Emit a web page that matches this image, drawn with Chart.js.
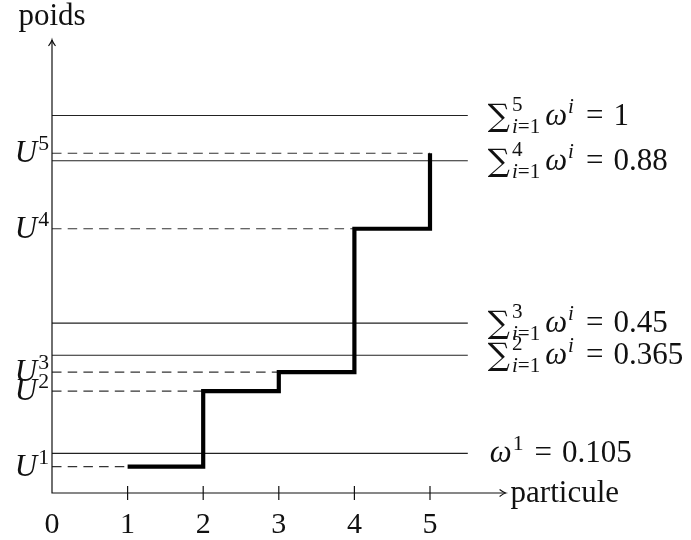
<!DOCTYPE html>
<html>
<head>
<meta charset="utf-8">
<script src="https://cdn.jsdelivr.net/npm/chart.js@4.4.1/dist/chart.umd.min.js"></script>
<style>
  html,body{margin:0;padding:0;background:#fff;}
  #wrap{width:691px;height:540px;}
</style>
</head>
<body>
<div id="wrap"><canvas id="c" width="691" height="540"></canvas></div>
<script>
// data
const particules = [1, 2, 3, 4, 5];
const U = [0.07, 0.27, 0.32, 0.70, 0.90];           // tirages U^k
const cumWeights = [0.105, 0.365, 0.45, 0.88, 1];    // sommes cumulées des poids
const cumText = ['0.105', '0.365', '0.45', '0.88', '1'];
const xTicks = [0, 1, 2, 3, 4, 5];
const xMax = 6, yMax = 1.2, lineEnd = 5.5;

const FONT = '"Liberation Serif", "DejaVu Serif", serif';
const INK = '#111';

// step line through the U values
const stepData = particules.map((p, i) => ({x: p, y: U[i]}));

const datasets = [{
  data: stepData, stepped: 'before', borderColor: '#000', borderWidth: 4.2,
  pointRadius: 0, fill: false, order: 0, borderCapStyle: 'butt', borderJoinStyle: 'miter'
}];
// horizontal lines of cumulative weights
cumWeights.forEach(w => datasets.push({
  data: [{x: 0, y: w}, {x: lineEnd, y: w}], borderColor: '#222', borderWidth: 1.1,
  pointRadius: 0, fill: false, order: 1
}));
// dashed lines from axis to each particle
U.forEach((u, i) => datasets.push({
  data: [{x: 0, y: u}, {x: particules[i], y: u}], borderColor: '#333', borderWidth: 1.2,
  borderDash: [9.5, 6.2], pointRadius: 0, fill: false, order: 2
}));

// draw a bit of math: parts = {t, it, s, dy, noAdv, gap}
function drawMath(ctx, x, y, parts, size) {
  let cx = x;
  parts.forEach(p => {
    const fs = size * (p.s || 1);
    ctx.font = (p.it ? 'italic ' : '') + fs + 'px ' + (p.f || FONT);
    ctx.fillText(p.t, cx, y + (p.dy || 0));
    if (!p.noAdv) cx += ctx.measureText(p.t).width + (p.gap || 0);
  });
  return cx - x;
}
function mathWidth(ctx, parts, size) {
  let w = 0;
  parts.forEach(p => {
    ctx.font = (p.it ? 'italic ' : '') + size * (p.s || 1) + 'px ' + (p.f || FONT);
    if (!p.noAdv) w += ctx.measureText(p.t).width + (p.gap || 0);
  });
  return w;
}

const decor = {
  id: 'decor',
  afterDraw(chart) {
    const ctx = chart.ctx, xs = chart.scales.x, ys = chart.scales.y;
    const x0 = xs.getPixelForValue(0), y0 = ys.getPixelForValue(0);
    const xe = xs.getPixelForValue(xMax), ye = ys.getPixelForValue(yMax);
    ctx.save();
    ctx.strokeStyle = INK; ctx.fillStyle = INK; ctx.lineWidth = 1.2;
    // axes
    ctx.beginPath();
    ctx.moveTo(x0, ye); ctx.lineTo(x0, y0); ctx.lineTo(xe, y0);
    ctx.stroke();
    // arrow tips
    ctx.beginPath();
    ctx.moveTo(x0 - 3.5, ye + 6); ctx.quadraticCurveTo(x0 - 0.5, ye + 2, x0, ye);
    ctx.quadraticCurveTo(x0 + 0.5, ye + 2, x0 + 3.5, ye + 6);
    ctx.moveTo(xe - 6, y0 - 3.5); ctx.quadraticCurveTo(xe - 2, y0 - 0.5, xe, y0);
    ctx.quadraticCurveTo(xe - 2, y0 + 0.5, xe - 6, y0 + 3.5);
    ctx.stroke();
    // ticks and tick labels
    ctx.font = '30px ' + FONT;
    ctx.textAlign = 'center'; ctx.textBaseline = 'alphabetic';
    xTicks.forEach(t => {
      const px = xs.getPixelForValue(t);
      if (t > 0) {
        ctx.beginPath(); ctx.moveTo(px, y0 - 7); ctx.lineTo(px, y0 + 7); ctx.stroke();
      }
      ctx.fillText(String(t), px, y0 + 40);
    });
    // axis titles
    ctx.font = '31px ' + FONT;
    ctx.fillText('poids', x0, 25);
    ctx.textAlign = 'left';
    ctx.fillText('particule', xe + 5, y0 + 9);

    // left U^k labels
    const size = 31;
    U.forEach((u, i) => {
      const parts = [{t: 'U', it: true, gap: 1}, {t: String(i + 1), s: 0.7, dy: -12}];
      const w = mathWidth(ctx, parts, size);
      drawMath(ctx, x0 - 3 - w, ys.getPixelForValue(u) + 9, parts, size);
    });

    // right labels of cumulative weights
    const lx = xs.getPixelForValue(lineEnd) + 20;
    cumWeights.forEach((w, i) => {
      const by = ys.getPixelForValue(w) + 9;
      let parts;
      if (i === 0) {
        parts = [{t: 'ω', it: true, gap: 1}, {t: '1', s: 0.7, dy: -12, gap: 11},
                 {t: '=', gap: 10}, {t: cumText[i]}];
        drawMath(ctx, lx + 2, by, parts, size);
      } else {
        parts = [{t: '∑', f: '"DejaVu Serif", serif', s: 1.0, dy: 1, gap: 2},
                 {t: String(i + 1), s: 0.68, dy: -14, noAdv: true},
                 {t: 'i', it: true, s: 0.68, dy: 8},
                 {t: '=1', s: 0.68, dy: 8, gap: 5},
                 {t: 'ω', it: true, gap: 1}, {t: 'i', it: true, s: 0.68, dy: -12, gap: 12},
                 {t: '=', gap: 10}, {t: cumText[i]}];
        drawMath(ctx, lx, by, parts, size);
      }
    });
    ctx.restore();
  }
};

new Chart(document.getElementById('c'), {
  type: 'line',
  data: {datasets},
  options: {
    responsive: false, animation: false, devicePixelRatio: 1,
    layout: {padding: {left: 52, right: 185.4, top: 40, bottom: 47}},
    plugins: {legend: {display: false}, tooltip: {enabled: false}},
    scales: {
      x: {type: 'linear', min: 0, max: xMax, display: false},
      y: {type: 'linear', min: 0, max: yMax, display: false}
    }
  },
  plugins: [decor]
});
</script>
</body>
</html>
